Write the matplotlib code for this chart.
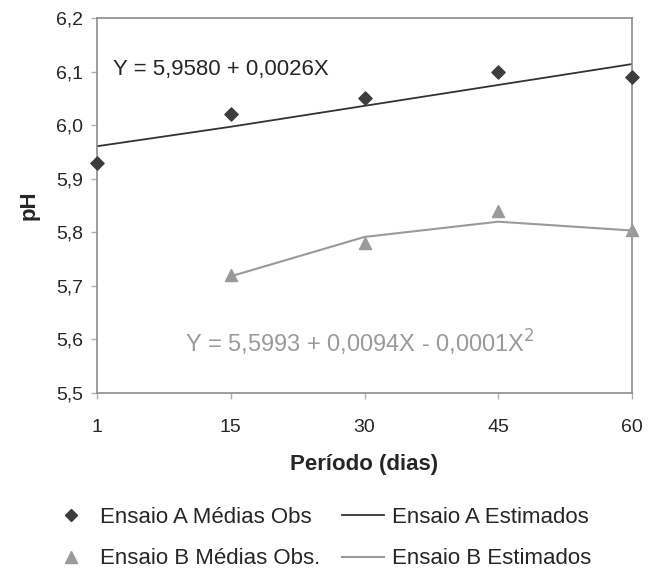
import matplotlib
matplotlib.use("Agg")
import matplotlib.pyplot as plt
from matplotlib.lines import Line2D

plt.rcParams['font.family'] = ['Liberation Sans', 'DejaVu Sans']

# Sampling days (categorical axis)
dias = [1, 15, 30, 45, 60]
dias_b = [15, 30, 45, 60]

# Observed means
ensaio_a_obs = [5.93, 6.02, 6.05, 6.10, 6.09]
ensaio_b_obs = [5.72, 5.78, 5.84, 5.805]

# Regression coefficients
coef_a = [5.9580, 0.0026]
coef_b = [5.5993, 0.0094, -0.0001]

ensaio_a_est = [coef_a[0] + coef_a[1] * d for d in dias]
ensaio_b_est = [coef_b[0] + coef_b[1] * d + coef_b[2] * d ** 2 for d in dias_b]

dark = '#3c3c3c'
light = '#9a9a9a'
txt = '#262626'

fig = plt.figure(figsize=(6.58, 5.72), dpi=100)
ax = fig.add_axes([97 / 658, 1 - 393 / 572, (632 - 97) / 658, (393 - 18) / 572])

pos_a = list(range(len(dias)))
pos_b = [dias.index(d) for d in dias_b]

ax.plot(pos_a, ensaio_a_est, color='#333333', lw=1.3, zorder=2)
ax.plot(pos_b, ensaio_b_est, color=light, lw=1.5, zorder=2)
ax.scatter(pos_a, ensaio_a_obs, marker='D', s=45, color=dark, zorder=3, clip_on=False)
ax.scatter(pos_b, ensaio_b_obs, marker='^', s=75, color=light, zorder=3, clip_on=False)

ax.set_xlim(0, len(dias) - 1)
ax.set_ylim(5.5, 6.2)
ax.set_xticks(pos_a)
ax.set_xticklabels([str(d) for d in dias])
yt = [5.5, 5.6, 5.7, 5.8, 5.9, 6.0, 6.1, 6.2]
ax.set_yticks(yt)
ax.set_yticklabels([f"{v:.1f}".replace('.', ',') for v in yt])

for s in ax.spines.values():
    s.set_color('#8c8c8c')
    s.set_linewidth(1.2)
ax.tick_params(axis='both', colors='#b0b0b0', labelcolor=txt, labelsize=14,
               length=4, width=1)
ax.tick_params(axis='x', pad=15)
ax.tick_params(axis='y', pad=6)

ax.set_xlabel('Período (dias)', fontsize=16, fontweight='bold', color=txt, labelpad=13)
ax.set_ylabel('pH', fontsize=16, fontweight='bold', color=txt, labelpad=12)

ax.text(0.12, 6.103, 'Y = 5,9580 + 0,0026X', fontsize=16, color=txt, va='center', ha='left')
ax.text(0.66, 5.593, 'Y = 5,5993 + 0,0094X - 0,0001X$^2$', fontsize=17, color=light,
        va='center', ha='left')

handles = [
    Line2D([], [], ls='none', marker='D', ms=6, color=dark),
    Line2D([], [], ls='none', marker='^', ms=8, color=light),
    Line2D([], [], color='#333333', lw=1.3),
    Line2D([], [], color=light, lw=1.5),
]
labels = ['Ensaio A Médias Obs', 'Ensaio B Médias Obs.', 'Ensaio A Estimados', 'Ensaio B Estimados']
fig.legend(handles, labels, ncol=2, loc='upper left', bbox_to_anchor=(50 / 658, 1 - 507 / 572),
           frameon=False, fontsize=16, handlelength=1.9, handletextpad=0.36,
           columnspacing=0.95, labelspacing=0.92, borderpad=0, borderaxespad=0,
           labelcolor=txt)

fig.savefig('out.png', dpi=100)
